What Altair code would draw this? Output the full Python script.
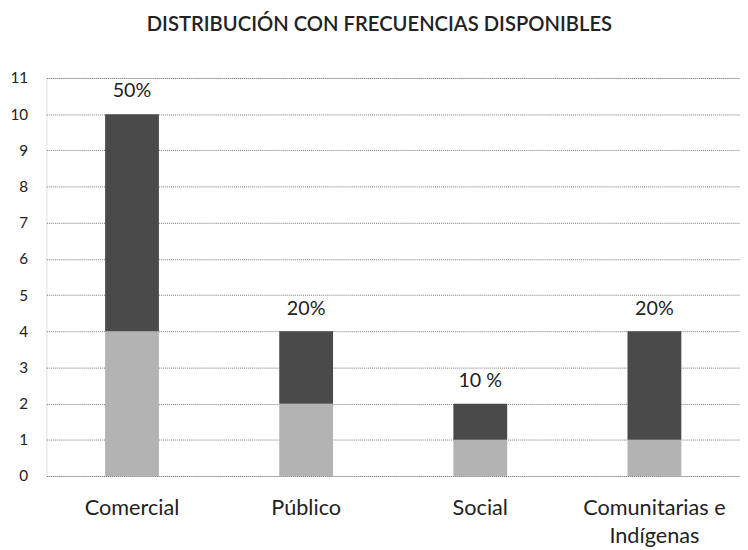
import altair as alt
import pandas as pd

categories = ["Comercial", "Público", "Social", "Comunitarias e\nIndígenas"]
base_values = [4, 2, 1, 1]
top_values = [6, 2, 1, 3]
pct_labels = ["50%", "20%", "10 %", "20%"]
series_names = ["Base", "Adicional"]
y_ticks = list(range(0, 12))

rows = []
for c, b, t in zip(categories, base_values, top_values):
    rows.append({"cat": c, "serie": series_names[0], "valor": b, "ord": 0})
    rows.append({"cat": c, "serie": series_names[1], "valor": t, "ord": 1})
df = pd.DataFrame(rows)

lab = pd.DataFrame({
    "cat": categories,
    "total": [b + t for b, t in zip(base_values, top_values)],
    "txt": pct_labels,
})

FONT = "Lato"
xscale = alt.Scale(domain=categories, paddingInner=0.691, paddingOuter=0.337)
yscale = alt.Scale(domain=[0, 11], nice=False)

x_axis = alt.Axis(
    labelAngle=0, ticks=False, domain=False, labelPadding=32,
    labelFontSize=22, labelColor="#222", labelFont=FONT,
    labelExpr="split(datum.label, '\\n')", labelLineHeight=28,
    labelBaseline="middle", title=None,
)
y_axis = alt.Axis(
    values=y_ticks, ticks=False, domain=False, labelOverlap=False,
    labelPadding=19, labelFontSize=15.5, labelColor="#222", labelFont=FONT,
    grid=True, gridColor="#777777", gridDash=[1, 1], gridWidth=1, title=None,
)

bars = alt.Chart(df).mark_bar().encode(
    x=alt.X("cat:N", sort=categories, scale=xscale, axis=x_axis),
    y=alt.Y("valor:Q", stack="zero", scale=yscale, axis=y_axis),
    color=alt.Color(
        "serie:N",
        scale=alt.Scale(domain=series_names, range=["#b3b3b3", "#4a4a4a"]),
        legend=None,
    ),
    order=alt.Order("ord:Q"),
)

texts = alt.Chart(lab).mark_text(
    dy=-23, fontSize=20, font=FONT, color="#222"
).encode(
    x=alt.X("cat:N", sort=categories, scale=xscale, axis=x_axis),
    y=alt.Y("total:Q", scale=yscale, axis=y_axis),
    text="txt:N",
)

chart = (
    alt.layer(bars, texts)
    .properties(
        width=704, height=404,
        title=alt.TitleParams(
            "DISTRIBUCIÓN CON FRECUENCIAS DISPONIBLES",
            font=FONT, fontSize=20.5, fontWeight=600, color="#222",
            anchor="middle", offset=36, dx=-14,
        ),
        autosize=alt.AutoSizeParams(type="none"),
        padding={"left": 39, "top": 67, "right": 0, "bottom": 68},
    )
    .configure_view(strokeWidth=0)
    .configure(background="white")
)

chart.save("out.html", embed_options={"renderer": "svg", "actions": False})
